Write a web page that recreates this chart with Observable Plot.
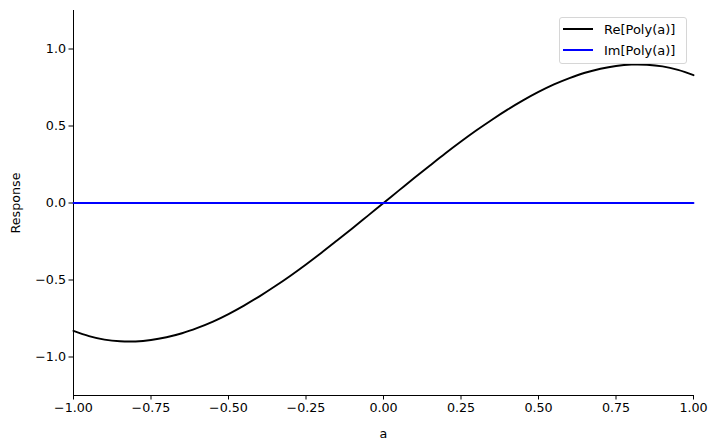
<!DOCTYPE html>
<html>
<head>
<meta charset="utf-8">
<script src="https://cdn.jsdelivr.net/npm/d3@7"></script>
<script src="https://cdn.jsdelivr.net/npm/@observablehq/plot@0.6"></script>
<style>
  body { margin: 0; background: #fff; font-family: "DejaVu Sans", sans-serif; }
  #wrap { position: relative; width: 718px; height: 448px; }
  .legend { position: absolute; left: 559px; top: 17px; width: 126px; height: 45px;
    border: 1px solid #d6d6d6; border-radius: 3px; background: rgba(255,255,255,0.8);
    font-family: "DejaVu Sans", sans-serif; font-size: 13px; color: #000; }
  .legend .row { position: absolute; left: 3px; height: 16px; display: flex; align-items: center; white-space: nowrap; }
  .legend .sw { display: inline-block; width: 30px; height: 2px; margin-right: 11px; }
</style>
</head>
<body>
<div id="wrap"></div>
<script>
const aValues = [-1.00,-0.95,-0.90,-0.85,-0.80,-0.75,-0.70,-0.65,-0.60,-0.55,-0.50,-0.45,-0.40,-0.35,-0.30,-0.25,-0.20,-0.15,-0.10,-0.05,
  0.00,0.05,0.10,0.15,0.20,0.25,0.30,0.35,0.40,0.45,0.50,0.55,0.60,0.65,0.70,0.75,0.80,0.85,0.90,0.95,1.00];
const reValues = [-0.83,-0.864,-0.887,-0.898,-0.899,-0.890,-0.872,-0.846,-0.811,-0.770,-0.721,-0.666,-0.606,-0.541,-0.472,-0.399,-0.323,-0.244,-0.164,-0.082,
  0.000,0.082,0.164,0.244,0.323,0.399,0.472,0.541,0.606,0.666,0.721,0.770,0.811,0.846,0.872,0.890,0.899,0.898,0.887,0.864,0.83];
const imValues = aValues.map(() => 0);
const seriesNames = ["Re[Poly(a)]", "Im[Poly(a)]"];
const seriesColors = ["#000000", "#0000ff"];
const xTicks = [-1.00,-0.75,-0.50,-0.25,0.00,0.25,0.50,0.75,1.00];
const yTicks = [-1.0,-0.5,0.0,0.5,1.0];

const rows = [];
aValues.forEach((a, i) => rows.push({a, v: reValues[i], s: seriesNames[0]}));
aValues.forEach((a, i) => rows.push({a, v: imValues[i], s: seriesNames[1]}));

const chart = Plot.plot({
  width: 718, height: 448,
  marginLeft: 73, marginRight: 25, marginTop: 10, marginBottom: 53,
  style: {fontFamily: "DejaVu Sans, sans-serif", fontSize: "12.5px", color: "#000", background: "#fff"},
  x: {domain: [-1, 1]},
  y: {domain: [-1.25, 1.25]},
  color: {domain: seriesNames, range: seriesColors},
  marks: [
    Plot.axisX({ticks: xTicks, tickFormat: d3.format(".2f"), tickSize: 4.5, tickPadding: 3, fontSize: 12.7,
      label: "a", labelAnchor: "center", labelArrow: "none", labelOffset: 42}),
    Plot.axisY({ticks: yTicks, tickFormat: d3.format(".1f"), tickSize: 4.5, tickPadding: 3, fontSize: 12.7,
      label: "Response", labelAnchor: "center", labelArrow: "none", labelOffset: 63}),
    Plot.ruleX([-1], {stroke: "#000", strokeWidth: 1}),
    Plot.ruleY([-1.25], {stroke: "#000", strokeWidth: 1}),
    Plot.line(rows, {x: "a", y: "v", z: "s", stroke: "s", strokeWidth: 1.9, curve: "catmull-rom"})
  ]
});
const wrap = document.getElementById("wrap");
wrap.appendChild(chart);

const leg = document.createElement("div");
leg.className = "legend";
seriesNames.forEach((n, i) => {
  const r = document.createElement("div");
  r.className = "row";
  r.style.top = (3 + i * 21) + "px";
  r.innerHTML = `<span class="sw" style="background:${seriesColors[i]}"></span><span>${n}</span>`;
  leg.appendChild(r);
});
wrap.appendChild(leg);
</script>
</body>
</html>
